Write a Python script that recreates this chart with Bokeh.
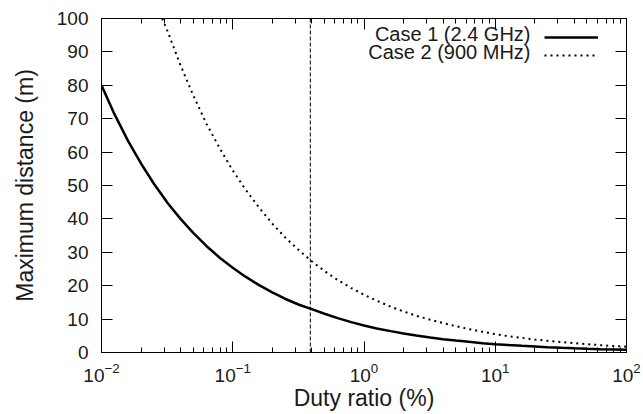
from bokeh.plotting import figure
from bokeh.models import (LinearAxis, LogAxis, FixedTicker, Span, Legend,
                          LegendItem, Label, CustomJSTickFormatter)
from bokeh.core.properties import value
from bokeh.embed import file_html
from bokeh.resources import INLINE

# ---- data ----
duty_case1 = [0.01, 0.0125, 0.016, 0.02, 0.025, 0.032, 0.04, 0.05, 0.063, 0.08,
              0.1, 0.125, 0.16, 0.2, 0.25, 0.32, 0.4, 0.5, 0.63, 0.8,
              1, 1.25, 1.6, 2, 2.5, 3.2, 4, 5, 6.3, 8,
              10, 12.5, 16, 20, 25, 32, 40, 50, 63, 80, 100]
dist_case1 = [80, 71.5, 63.2, 56.6, 50.6, 44.7, 40.0, 35.8, 31.9, 28.3,
              25.4, 22.7, 20.1, 18.0, 16.1, 14.3, 13.0, 11.6, 10.3, 9.1,
              8.1, 7.2, 6.4, 5.7, 5.1, 4.5, 4.0, 3.6, 3.2, 2.8,
              2.5, 2.25, 2.0, 1.8, 1.6, 1.42, 1.27, 1.13, 1.0, 0.9, 0.8]

duty_case2 = [0.029, 0.032, 0.04, 0.05, 0.063, 0.08,
              0.1, 0.125, 0.16, 0.2, 0.25, 0.32, 0.4, 0.5, 0.63, 0.8,
              1, 1.25, 1.6, 2, 2.5, 3.2, 4, 5, 6.3, 8,
              10, 12.5, 16, 20, 25, 32, 40, 50, 63, 80, 100]
dist_case2 = [100, 96, 86, 77, 68.5, 61,
              54.5, 48.8, 43.2, 38.6, 34.5, 30.6, 27.3, 24.4, 21.7, 19.3,
              17.3, 15.5, 13.7, 12.3, 11.0, 9.8, 8.8, 7.9, 7.0, 6.2,
              5.5, 4.9, 4.4, 3.9, 3.5, 3.1, 2.8, 2.5, 2.2, 1.95, 1.75]

marker_duty = 0.39
series_names = ["Case 1 (2.4 GHz)", "Case 2 (900 MHz)"]
x_major_ticks = [0.01, 0.1, 1, 10, 100]
x_minor_ticks = [m * 10.0 ** e for e in range(-2, 2) for m in range(2, 10)]
y_ticks = [0, 10, 20, 30, 40, 50, 60, 70, 80, 90, 100]
x_label = "Duty ratio (%)"
y_label = "Maximum distance (m)"

FONT = "Liberation Sans"
TXT = "#1a1a1a"

p = figure(width=643, height=414, x_axis_type="log", x_range=(0.01, 100),
           y_range=(0, 100), output_backend="svg", toolbar_location=None,
           min_border_left=101, min_border_right=17, min_border_top=18,
           min_border_bottom=62)
p.grid.visible = False
p.outline_line_color = "black"
p.outline_line_width = 1

r1 = p.line(duty_case1, dist_case1, line_color="black", line_width=2.5)
r2 = p.line(duty_case2, dist_case2, line_color="black", line_width=2,
            line_dash="2 4")

p.add_layout(Span(location=marker_duty, dimension="height", line_color="black",
                  line_width=1, line_dash="4 2"))

xticker = FixedTicker(ticks=x_major_ticks, minor_ticks=x_minor_ticks)
yticker = FixedTicker(ticks=y_ticks)


def style(ax):
    ax.major_tick_in = 11
    ax.major_tick_out = 0
    ax.minor_tick_in = 5
    ax.minor_tick_out = 0
    ax.axis_line_color = "black"
    ax.major_tick_line_color = "black"
    ax.minor_tick_line_color = "black"
    ax.major_label_text_font = FONT
    ax.major_label_text_font_size = "19px"
    ax.major_label_text_color = TXT
    ax.axis_label_text_font = FONT
    ax.axis_label_text_font_size = "23px"
    ax.axis_label_text_font_style = "normal"
    ax.axis_label_text_color = TXT


xa = p.xaxis[0]
xa.ticker = xticker
style(xa)
xa.major_label_standoff = 10
xa.axis_label = x_label
xa.axis_label_standoff = 0

ya = p.yaxis[0]
ya.ticker = yticker
style(ya)
ya.minor_tick_line_color = None
ya.major_label_standoff = 13
ya.axis_label = y_label
ya.axis_label_standoff = 16

blank = CustomJSTickFormatter(code="return ''")
top = LogAxis(ticker=xticker, formatter=blank)
style(top)
top.major_label_standoff = 0
p.add_layout(top, "above")

right = LinearAxis(ticker=yticker, formatter=blank)
style(right)
right.minor_tick_line_color = None
right.major_label_standoff = 0
p.add_layout(right, "right")

legend = Legend(items=[LegendItem(label=value(""), renderers=[r1]),
                       LegendItem(label=value(""), renderers=[r2])],
                location=(443, 288), glyph_width=54, glyph_height=18,
                label_height=18, label_width=0, label_standoff=0,
                label_text_font_size="0px", padding=4, spacing=0, margin=0,
                border_line_color=None, background_fill_alpha=0)
p.add_layout(legend)

for i, name in enumerate(series_names):
    p.add_layout(Label(x=429, y=319 - 18 * i, x_units="screen", y_units="screen",
                       text=name, text_align="right", text_baseline="middle",
                       text_font=FONT, text_font_size="20px", text_color=TXT))

open("out.html", "w").write(file_html(p, INLINE))
